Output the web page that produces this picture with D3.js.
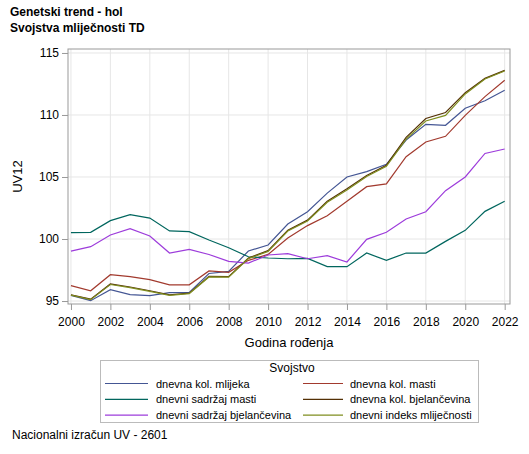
<!DOCTYPE html>
<html>
<head>
<meta charset="utf-8">
<script src="https://cdn.jsdelivr.net/npm/d3@7"></script>
<style>
  body { margin: 0; background: #fff; }
  text { font-family: "Liberation Sans", Arial, sans-serif; fill: #000; }
</style>
</head>
<body>
<div id="d3-container"></div>
<script>
/* CONSTANTS AND GLOBALS */
const width = 529,
  height = 454,
  margin = { top: 49, bottom: 150, left: 68, right: 19 };

/* DATA */
const years = d3.range(2000, 2023);

const seriesNames = [
  "dnevna kol. mlijeka",
  "dnevna kol. masti",
  "dnevni sadržaj masti",
  "dnevna kol. bjelančevina",
  "dnevni sadržaj bjelančevina",
  "dnevni indeks mliječnosti"
];

const seriesColors = ["#445694", "#A23A2E", "#01665E", "#543005", "#9D3CDB", "#7F8E1F"];

const kolMlijeka = [95.46, 95.03, 95.91, 95.51, 95.43, 95.67, 95.70, 97.22, 97.39, 99.03, 99.52, 101.21,
  102.2, 103.7, 105.0, 105.43, 106.02, 107.98, 109.25, 109.17, 110.54, 111.15, 112.0];
const kolMasti = [96.24, 95.83, 97.12, 96.96, 96.72, 96.31, 96.31, 97.43, 97.31, 98.28, 98.76, 100.08,
  101.08, 101.88, 103.05, 104.22, 104.44, 106.64, 107.82, 108.28, 109.97, 111.48, 112.8];
const sadrzajMasti = [100.51, 100.54, 101.48, 101.96, 101.69, 100.65, 100.59, 99.92, 99.3, 98.57, 98.47, 98.41,
  98.44, 97.77, 97.77, 98.87, 98.28, 98.87, 98.87, 99.81, 100.7, 102.23, 103.04];
const kolBjelancevina = [95.5, 95.15, 96.38, 96.13, 95.83, 95.5, 95.64, 96.98, 96.96, 98.46, 99.06, 100.7,
  101.52, 103.04, 104.05, 105.12, 105.95, 108.2, 109.72, 110.2, 111.8, 112.95, 113.6];
const sadrzajBjelancevina = [99.03, 99.38, 100.32, 100.83, 100.24, 98.87, 99.17, 98.75, 98.2, 98.06, 98.71, 98.82,
  98.41, 98.66, 98.15, 99.97, 100.54, 101.61, 102.2, 103.9, 105.0, 106.9, 107.26];
const indeksMlijecnosti = [95.47, 95.11, 96.33, 96.08, 95.78, 95.46, 95.6, 96.94, 96.92, 98.42, 99.0, 100.64,
  101.45, 102.96, 103.96, 105.04, 105.86, 108.05, 109.52, 109.97, 111.7, 112.9, 113.55];

const seriesValues = [kolMlijeka, kolMasti, sadrzajMasti, kolBjelancevina, sadrzajBjelancevina, indeksMlijecnosti];

const xTicks = d3.range(2000, 2023, 2);
const yTicks = [95, 100, 105, 110, 115];

// legend is drawn in this order (two columns, three rows)
const legendOrder = [0, 1, 2, 3, 4, 5];

/* SCALES */
const xScale = d3.scaleLinear()
  .domain([1999.85, 2022.27])
  .range([margin.left, width - margin.right]);

const yScale = d3.scaleLinear()
  .domain([94.76, 115.32])
  .range([height - margin.bottom, margin.top]);

/* SVG */
const svg = d3.select("#d3-container")
  .append("svg")
  .attr("width", width)
  .attr("height", height);

// titles
svg.append("text")
  .attr("x", 10).attr("y", 16)
  .attr("font-size", 12).attr("font-weight", "bold")
  .text("Genetski trend - hol");
svg.append("text")
  .attr("x", 10).attr("y", 32)
  .attr("font-size", 12).attr("font-weight", "bold")
  .text("Svojstva mliječnosti TD");

// gridlines
const grid = svg.append("g").attr("class", "grid");
grid.selectAll(".gx")
  .data(xTicks)
  .join("line")
  .attr("x1", d => xScale(d)).attr("x2", d => xScale(d))
  .attr("y1", margin.top).attr("y2", height - margin.bottom)
  .attr("stroke", "#e6e6e6");
grid.selectAll(".gy")
  .data(yTicks)
  .join("line")
  .attr("class", "gy")
  .attr("x1", margin.left).attr("x2", width - margin.right)
  .attr("y1", d => yScale(d)).attr("y2", d => yScale(d))
  .attr("stroke", "#e6e6e6");

// axes
const xAxis = d3.axisBottom(xScale).tickValues(xTicks).tickFormat(d3.format("d")).tickSize(6).tickSizeOuter(0);
const yAxis = d3.axisLeft(yScale).tickValues(yTicks).tickSize(6).tickSizeOuter(0);

const gx = svg.append("g")
  .attr("transform", `translate(0, ${height - margin.bottom})`)
  .call(xAxis);
const gy = svg.append("g")
  .attr("transform", `translate(${margin.left}, 0)`)
  .call(yAxis);

[gx, gy].forEach(g => {
  g.select(".domain").remove();
  g.selectAll(".tick line").attr("stroke", "#999");
  g.selectAll(".tick text")
    .attr("font-size", 12)
    .attr("font-family", "'Liberation Sans', Arial, sans-serif")
    .attr("fill", "#000");
});
gx.selectAll(".tick text").attr("dy", "1.05em");
gy.selectAll(".tick text").attr("x", -9);

// lines
const line = d3.line()
  .x((d, i) => xScale(years[i]))
  .y(d => yScale(d));

svg.append("g")
  .selectAll("path")
  .data(seriesValues)
  .join("path")
  .attr("d", d => line(d))
  .attr("fill", "none")
  .attr("stroke", (d, i) => seriesColors[i])
  .attr("stroke-width", 1.2);

// frame
svg.append("rect")
  .attr("x", margin.left).attr("y", margin.top)
  .attr("width", width - margin.left - margin.right)
  .attr("height", height - margin.top - margin.bottom)
  .attr("fill", "none")
  .attr("stroke", "#999");

// axis labels
svg.append("text")
  .attr("x", (margin.left + width - margin.right) / 2)
  .attr("y", 347)
  .attr("text-anchor", "middle")
  .attr("font-size", 13)
  .text("Godina rođenja");

svg.append("text")
  .attr("transform", `translate(22, ${(margin.top + height - margin.bottom) / 2}) rotate(-90)`)
  .attr("text-anchor", "middle")
  .attr("font-size", 13)
  .text("UV12");

/* LEGEND */
const legend = svg.append("g");
legend.append("rect")
  .attr("x", 100.5).attr("y", 360.5)
  .attr("width", 378).attr("height", 62)
  .attr("fill", "none")
  .attr("stroke", "#bbb");

legend.append("text")
  .attr("x", 292).attr("y", 372)
  .attr("text-anchor", "middle")
  .attr("font-size", 12)
  .text("Svojstvo");

// column layout: line start, line end, text start
const legendCols = [[105, 148, 156], [303, 343, 350]];

const items = legend.selectAll(".item")
  .data(legendOrder)
  .join("g")
  .attr("class", "item")
  .attr("transform", (d, i) => `translate(0, ${383.5 + Math.floor(i / 2) * 15.8})`);

items.append("line")
  .attr("x1", (d, i) => legendCols[i % 2][0])
  .attr("x2", (d, i) => legendCols[i % 2][1])
  .attr("stroke", d => seriesColors[d])
  .attr("stroke-width", 1.2);

items.append("text")
  .attr("x", (d, i) => legendCols[i % 2][2])
  .attr("y", 4)
  .attr("font-size", 11)
  .text(d => seriesNames[d]);

// footnote
svg.append("text")
  .attr("x", 12).attr("y", 439)
  .attr("font-size", 12)
  .text("Nacionalni izračun UV - 2601");
</script>
</body>
</html>
